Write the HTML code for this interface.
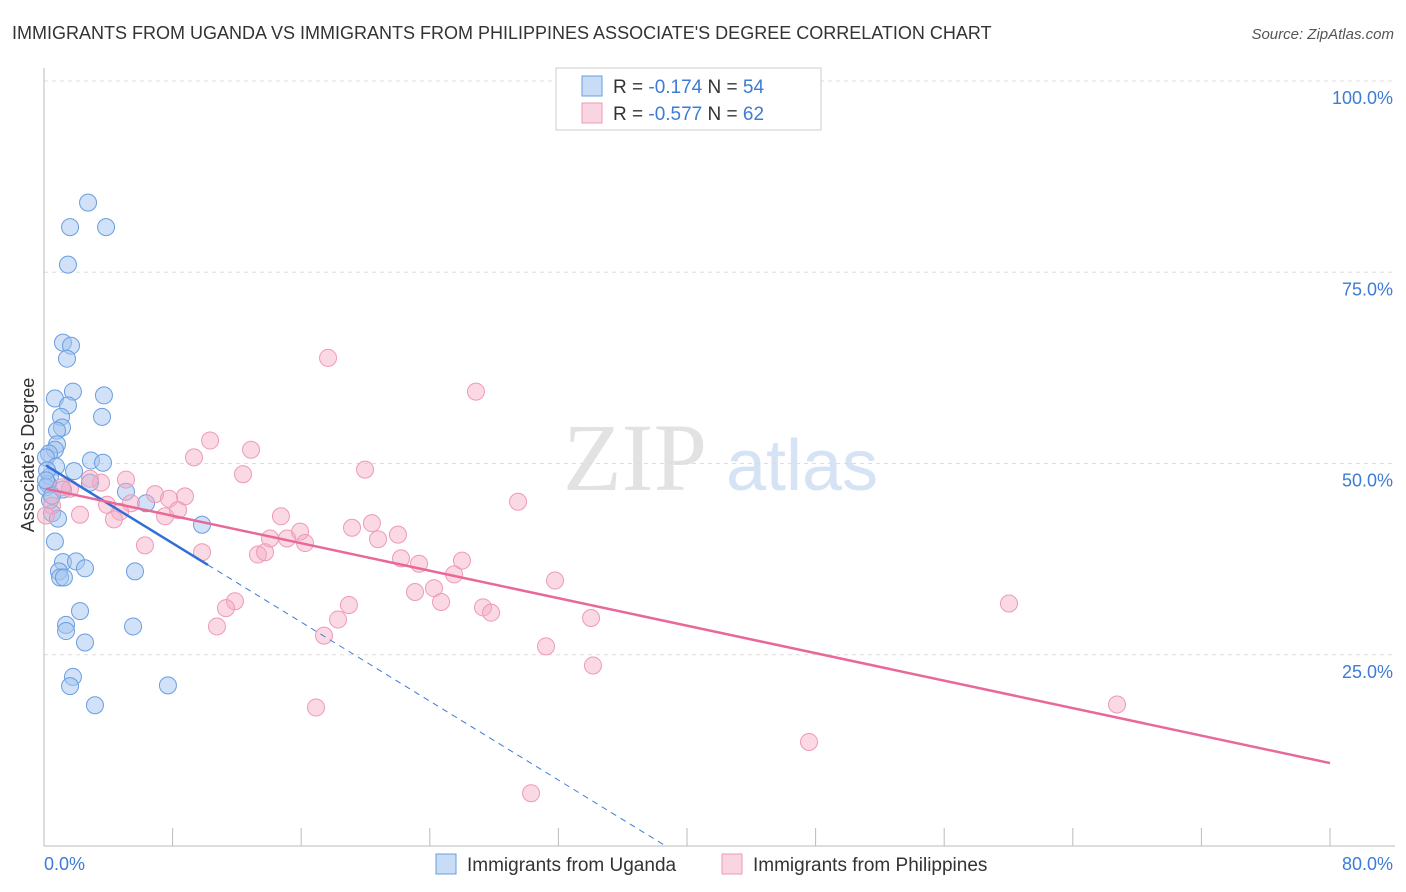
<!DOCTYPE html>
<html><head><meta charset="utf-8"><style>
body{margin:0;background:#fff;font-family:"Liberation Sans",sans-serif}
svg{display:block}
</style></head><body>
<svg id="chart" width="1406" height="892">
<text x="12" y="39" font-size="18" fill="#333">IMMIGRANTS FROM UGANDA VS IMMIGRANTS FROM PHILIPPINES ASSOCIATE'S DEGREE CORRELATION CHART</text>
<text x="1394" y="39" font-size="15" fill="#555" text-anchor="end" font-style="italic">Source: ZipAtlas.com</text>
<g>
<text x="635" y="490" font-size="96" font-family="Liberation Serif,serif" fill="#e2e2e2" text-anchor="middle">ZIP</text>
<text x="802" y="490" font-size="72" fill="#d6e3f5" text-anchor="middle">atlas</text>
</g>
<g id="grid"></g>
<g id="axes"></g>
<g id="marks"></g>
<text transform="translate(34,455) rotate(-90)" font-size="18" fill="#333" text-anchor="middle">Associate's Degree</text>
<g>
<rect x="556" y="68" width="265" height="62" fill="#fff" stroke="#ccc"/>
<rect x="582" y="76" width="20" height="20" fill="rgba(164,196,240,0.6)" stroke="#6a9ee0"/>
<rect x="582" y="103" width="20" height="20" fill="rgba(244,170,195,0.5)" stroke="#ee9ab5"/>
<text x="613" y="93" font-size="19" fill="#333">R = <tspan fill="#3d7bd6">-0.174</tspan>   N = <tspan fill="#3d7bd6">54</tspan></text>
<text x="613" y="120" font-size="19" fill="#333">R = <tspan fill="#3d7bd6">-0.577</tspan>   N = <tspan fill="#3d7bd6">62</tspan></text>
</g>
<g>
<rect x="436" y="854" width="20" height="20" fill="rgba(164,196,240,0.6)" stroke="#6a9ee0"/>
<text x="467" y="871" font-size="19" fill="#333">Immigrants from Uganda</text>
<rect x="722" y="854" width="20" height="20" fill="rgba(244,170,195,0.5)" stroke="#ee9ab5"/>
<text x="753" y="871" font-size="19" fill="#333">Immigrants from Philippines</text>
</g>
</svg>
<script>
const yTicks=[25,50,75,100];
const yTickLabels=["25.0%","50.0%","75.0%","100.0%"];
const xTicks=[0,8,16,24,32,40,48,56,64,72,80];
const ugandaX=[2.74,1.62,3.86,1.49,1.18,1.68,1.43,1.80,3.73,0.68,1.49,1.06,3.61,1.12,0.81,0.81,0.68,0.31,0.12,2.92,3.67,0.75,1.87,0.37,2.86,0.25,5.10,0.12,1.18,6.35,0.50,0.87,9.83,0.68,1.18,1.99,2.55,0.93,1.00,1.24,5.66,2.24,1.37,1.37,5.54,2.55,1.80,1.62,7.71,3.17,0.19,0.12,0.37,0.50];
const ugandaY=[84.1,80.9,80.9,76.0,65.8,65.4,63.7,59.4,58.9,58.5,57.6,56.1,56.1,54.7,54.3,52.5,51.8,51.3,50.8,50.4,50.1,49.6,49.0,48.3,47.5,47.3,46.3,46.9,46.6,44.8,43.5,42.8,42.0,39.8,37.1,37.2,36.3,35.9,35.1,35.1,35.9,30.7,28.9,28.1,28.7,26.6,22.1,20.9,21.0,18.4,49.1,47.8,45.2,45.8];
const philX=[17.67,26.87,10.33,12.88,9.33,19.97,12.38,29.49,6.91,8.77,7.78,3.55,5.10,1.62,1.12,2.86,3.92,5.41,4.73,4.35,7.53,8.34,14.74,6.28,9.83,14.06,15.12,15.93,16.24,19.16,20.40,20.78,22.02,13.31,13.75,22.21,23.33,26.00,25.51,31.79,24.26,23.08,24.70,27.31,27.81,34.03,18.97,18.29,11.88,11.32,10.76,17.42,31.23,34.15,16.92,60.03,66.75,47.59,30.30,2.24,0.50,0.12];
const philY=[63.8,59.4,53.0,51.8,50.8,49.2,48.6,45.0,46.0,45.7,45.4,47.5,47.9,46.7,46.9,48.0,44.6,44.8,43.7,42.7,43.1,43.9,43.1,39.3,38.4,40.2,40.2,41.1,39.6,41.6,42.2,40.1,40.7,38.1,38.4,37.6,36.9,37.3,35.5,34.7,33.7,33.2,31.9,31.2,30.5,29.8,31.5,29.6,32.0,31.1,28.7,27.5,26.1,23.6,18.1,31.7,18.5,13.6,6.9,43.3,44.5,43.2];
const ugandaTrend=[49.9,-1.29]; // intercept, slope
const philTrend=[46.76,-0.449];

const NS="http://www.w3.org/2000/svg";
const X0=44,X1=1330,Y0=846,Y100=81;
const sx=v=>X0+(X1-X0)*v/80;
const sy=v=>Y0-(Y0-Y100)*v/100;
function mk(tag,attrs,parent){const e=document.createElementNS(NS,tag);for(const k in attrs)e.setAttribute(k,attrs[k]);parent.appendChild(e);return e;}
const grid=document.getElementById('grid'),axes=document.getElementById('axes'),marks=document.getElementById('marks');
yTicks.forEach((t,i)=>{
 const l=mk('line',{x1:X0,x2:1395,y1:sy(t),y2:sy(t),stroke:'#ddd','stroke-dasharray':'4,4'},grid);
 
 
 const tx=mk('text',{x:1393,y:sy(t)+23,'font-size':18,fill:'#3d7bd6','text-anchor':'end'},grid);
 tx.textContent=yTickLabels[i];
 
 
});
const ax=mk('line',{x1:X0,x2:X0,y1:68,y2:Y0,stroke:'#bbb'},axes);


const bx=mk('line',{x1:X0,x2:1395,y1:Y0,y2:Y0,stroke:'#bbb'},axes);


xTicks.forEach(t=>{
 const l=mk('line',{x1:sx(t),x2:sx(t),y1:828,y2:Y0,stroke:'#bbb'},axes);
 
 
});
const xl0=mk('text',{x:44,y:870,'font-size':18,fill:'#3d7bd6'},axes);xl0.textContent=xTicks[0].toFixed(1)+'%';


const xl1=mk('text',{x:1393,y:870,'font-size':18,fill:'#3d7bd6','text-anchor':'end'},axes);xl1.textContent=xTicks[xTicks.length-1].toFixed(1)+'%';


ugandaX.forEach((v,i)=>{
 const c=mk('circle',{cx:sx(v),cy:sy(ugandaY[i]),r:8.5,fill:'rgba(164,196,240,0.5)',stroke:'#6a9ee0','stroke-width':1},marks);
 
 
});
philX.forEach((v,i)=>{
 const c=mk('circle',{cx:sx(v),cy:sy(philY[i]),r:8.5,fill:'rgba(244,170,195,0.45)',stroke:'#ee9ab5','stroke-width':1},marks);
 
 
});
const uf=x=>ugandaTrend[0]+ugandaTrend[1]*x, pf=x=>philTrend[0]+philTrend[1]*x;
const uz=-ugandaTrend[0]/ugandaTrend[1];
const ud=mk('line',{x1:sx(10.2),y1:sy(uf(10.2)),x2:sx(uz),y2:sy(0),stroke:'#3d7bd6','stroke-width':1,'stroke-dasharray':'6,5'},marks);


const us=mk('line',{x1:sx(0.12),y1:sy(uf(0.12)),x2:sx(10.2),y2:sy(uf(10.2)),stroke:'#2f6fd6','stroke-width':2.5},marks);


const pl=mk('line',{x1:sx(0.12),y1:sy(pf(0.12)),x2:sx(80),y2:sy(pf(80)),stroke:'#e8689a','stroke-width':2.5},marks);


</script>
</body></html>
